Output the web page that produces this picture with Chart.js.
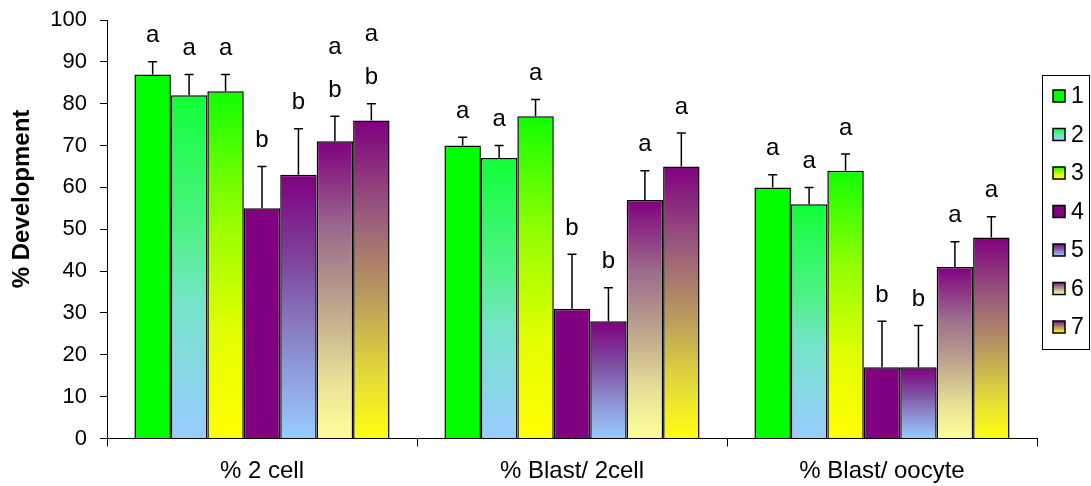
<!DOCTYPE html>
<html>
<head>
<meta charset="utf-8">
<script src="https://cdn.jsdelivr.net/npm/chart.js@4/dist/chart.umd.min.js"></script>
<style>
  body { margin: 0; background: #fff; }
  canvas { display: block; }
</style>
</head>
<body>
<canvas id="myChart" width="1091" height="486"></canvas>
<script>
const categorias = ["% 2 cell", "% Blast/ 2cell", "% Blast/ oocyte"];
const series = ["1", "2", "3", "4", "5", "6", "7"];

// valores (media) por tratamiento
const valores1 = [87, 70, 60];
const valores2 = [82, 67, 56];
const valores3 = [83, 77, 64];
const valores4 = [55, 31, 17];
const valores5 = [63, 28, 17];
const valores6 = [71, 57, 41];
const valores7 = [76, 65, 48];

// error (solo hacia arriba)
const error1 = [3, 2, 3];
const error2 = [5, 3, 4];
const error3 = [4, 4, 4];
const error4 = [10, 13, 11];
const error5 = [11, 8, 10];
const error6 = [6, 7, 6];
const error7 = [4, 8, 5];

// letras de significancia (de arriba hacia abajo)
const letras1 = ["a", "a", "a"];
const letras2 = ["a", "a", "a"];
const letras3 = ["a", "a", "a"];
const letras4 = ["b", "b", "b"];
const letras5 = ["b", "b", "b"];
const letras6 = ["ab", "a", "a"];
const letras7 = ["ab", "a", "a"];

const yTicks = [0, 10, 20, 30, 40, 50, 60, 70, 80, 90, 100];

const valores = [valores1, valores2, valores3, valores4, valores5, valores6, valores7];
const errores = [error1, error2, error3, error4, error5, error6, error7];
const letras = [letras1, letras2, letras3, letras4, letras5, letras6, letras7];

// paradas del degradado: arriba (0) -> abajo (1)
const degradados = [
  [[0, "#00FF00"], [1, "#00FF00"]],
  [[0, "#10FF38"], [0.4, "#50F288"], [0.6, "#74E4C8"], [1, "#99CCFF"]],
  [[0, "#10FF00"], [0.35, "#90FF00"], [0.7, "#E4FF00"], [1, "#FFFF00"]],
  [[0, "#800080"], [1, "#800080"]],
  [[0, "#800080"], [0.35, "#7E4A9E"], [0.6, "#8A80C4"], [1, "#99CCFF"]],
  [[0, "#800080"], [0.3, "#9C6C8C"], [0.55, "#BCA48C"], [0.8, "#E8E096"], [1, "#FFFF99"]],
  [[0, "#800080"], [0.3, "#9A5C7C"], [0.55, "#BA9A5E"], [0.8, "#E4DA38"], [1, "#FFFF10"]],
];

const fuente = "Arial, 'Liberation Sans', sans-serif";

function degradado(ctx, top, bottom, paradas) {
  const g = ctx.createLinearGradient(0, top, 0, bottom);
  paradas.forEach(function (p) { g.addColorStop(p[0], p[1]); });
  return g;
}

function colorBarra(i) {
  return function (context) {
    const chart = context.chart;
    if (!chart.chartArea || !context.parsed) return degradados[i][0][1];
    const y = chart.scales.y;
    const top = y.getPixelForValue(context.parsed.y);
    const bottom = y.getPixelForValue(0);
    if (bottom - top < 1) return degradados[i][0][1];
    return degradado(chart.ctx, top, bottom, degradados[i]);
  };
}

const datasets = series.map(function (nombre, i) {
  return {
    label: nombre,
    data: valores[i],
    backgroundColor: colorBarra(i),
    borderColor: "#000",
    borderWidth: 1.5,
    borderSkipped: "bottom",
  };
});

const erroresYLetras = {
  id: "erroresYLetras",
  afterDatasetsDraw(chart) {
    const ctx = chart.ctx;
    const y = chart.scales.y;
    ctx.save();
    ctx.strokeStyle = "#000";
    ctx.lineWidth = 1.5;
    ctx.fillStyle = "#000";
    ctx.font = "24px " + fuente;
    ctx.textAlign = "center";
    ctx.textBaseline = "middle";
    chart.data.datasets.forEach(function (ds, i) {
      const meta = chart.getDatasetMeta(i);
      meta.data.forEach(function (bar, j) {
        const yTop = y.getPixelForValue(ds.data[j]);
        const yErr = y.getPixelForValue(ds.data[j] + errores[i][j]);
        ctx.beginPath();
        ctx.moveTo(bar.x, yTop);
        ctx.lineTo(bar.x, yErr);
        ctx.moveTo(bar.x - 4.5, yErr);
        ctx.lineTo(bar.x + 4.5, yErr);
        ctx.stroke();
        const l = letras[i][j];
        for (let k = 0; k < l.length; k++) {
          const pos = l.length - 1 - k;
          ctx.fillText(l[k], bar.x, yErr - 26 - pos * 43);
        }
      });
    });
    ctx.restore();
  },
};

const tituloY = {
  id: "tituloY",
  afterDraw(chart) {
    const ctx = chart.ctx;
    ctx.save();
    ctx.translate(22, 199);
    ctx.rotate(-Math.PI / 2);
    ctx.font = "bold 24px " + fuente;
    ctx.fillStyle = "#000";
    ctx.textAlign = "center";
    ctx.textBaseline = "middle";
    ctx.fillText("% Development", 0, 0);
    ctx.restore();
  },
};

const leyenda = {
  id: "leyenda",
  afterDraw(chart) {
    const ctx = chart.ctx;
    const x0 = 1042.5, y0 = 75.5, w = 47, h = 274;
    ctx.save();
    ctx.strokeStyle = "#000";
    ctx.lineWidth = 1;
    ctx.strokeRect(x0, y0, w, h);
    ctx.font = "23px " + fuente;
    ctx.textAlign = "left";
    ctx.textBaseline = "middle";
    series.forEach(function (nombre, i) {
      const cy = 96 + i * 38.5;
      const top = cy - 6, size = 12;
      ctx.fillStyle = degradado(ctx, top, top + size, degradados[i]);
      ctx.fillRect(1053, top, size, size);
      ctx.lineWidth = 1.5;
      ctx.strokeRect(1053, top, size, size);
      ctx.fillStyle = "#000";
      ctx.fillText(nombre, 1071, cy + 1);
    });
    ctx.restore();
  },
};

new Chart(document.getElementById("myChart").getContext("2d"), {
  type: "bar",
  data: { labels: categorias, datasets: datasets },
  options: {
    responsive: false,
    animation: false,
    layout: { padding: { top: 20, right: 54, left: 0, bottom: 0 } },
    plugins: {
      legend: { display: false },
      tooltip: { enabled: false },
    },
    datasets: {
      bar: { barPercentage: 1, categoryPercentage: 0.823 },
    },
    scales: {
      x: {
        afterFit(scale) {
          scale.height = 47.5;
          scale.paddingLeft = 0;
          scale.paddingRight = 0;
        },
        grid: {
          offset: true,
          drawOnChartArea: false,
          drawTicks: true,
          tickLength: 8,
          color: "#000",
        },
        border: { display: true, color: "#000", width: 1 },
        ticks: {
          color: "#000",
          font: { family: fuente, size: 24 },
          padding: 10,
        },
      },
      y: {
        min: 0,
        max: 100,
        afterFit(scale) {
          scale.width = 107;
          scale.paddingTop = 0;
          scale.paddingBottom = 0;
        },
        afterBuildTicks(scale) {
          scale.ticks = yTicks.map(function (v) { return { value: v }; });
        },
        grid: {
          drawOnChartArea: false,
          drawTicks: true,
          tickLength: 7,
          color: "#000",
        },
        border: { display: true, color: "#000", width: 1 },
        ticks: {
          color: "#000",
          font: { family: fuente, size: 22 },
          padding: 13,
        },
      },
    },
  },
  plugins: [erroresYLetras, tituloY, leyenda],
});
</script>
</body>
</html>
